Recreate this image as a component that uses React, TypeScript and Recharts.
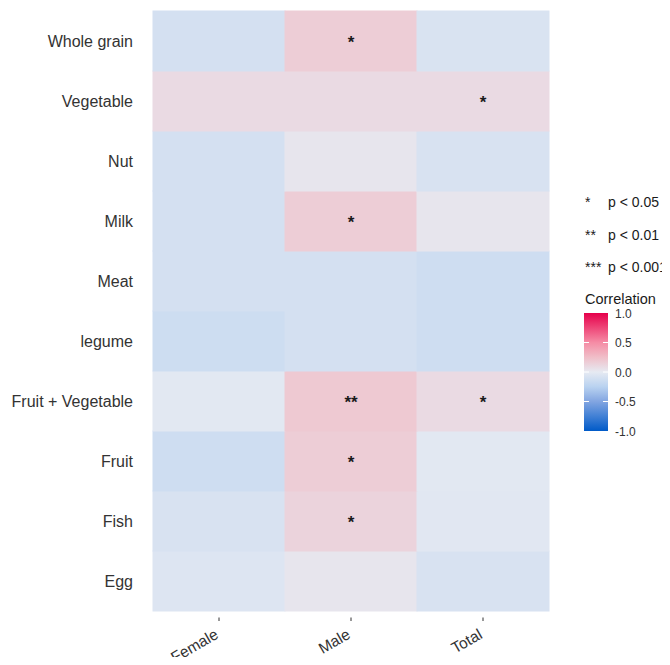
import React from 'react';
import { ScatterChart, Scatter, XAxis, YAxis } from 'recharts';

const rows = ['Whole grain', 'Vegetable', 'Nut', 'Milk', 'Meat', 'legume', 'Fruit + Vegetable', 'Fruit', 'Fish', 'Egg'];
const cols = ['Female', 'Male', 'Total'];
const femaleR = [-0.10, 0.09, -0.10, -0.10, -0.10, -0.14, -0.02, -0.135, -0.08, -0.05];
const maleR = [0.165, 0.09, 0.03, 0.165, -0.10, -0.10, 0.19, 0.165, 0.13, 0.03];
const totalR = [-0.075, 0.09, -0.08, 0.03, -0.135, -0.135, 0.09, -0.02, -0.03, -0.08];
const femaleSig = ['', '', '', '', '', '', '', '', '', ''];
const maleSig = ['*', '', '', '*', '', '', '**', '*', '*', ''];
const totalSig = ['', '*', '', '', '', '', '*', '', '', ''];
const legendSig = ['*', '**', '***'];
const legendP = ['p < 0.05', 'p < 0.01', 'p < 0.001'];
const legendTicks = [1.0, 0.5, 0.0, -0.5, -1.0];

const stops: [number, number[]][] = [
  [-1, [0, 90, 200]],
  [-0.5, [130, 165, 225]],
  [-0.25, [185, 210, 240]],
  [0, [230, 234, 242]],
  [0.25, [240, 190, 200]],
  [0.5, [245, 140, 165]],
  [1, [230, 0, 75]],
];
function colorOf(r: number): string {
  for (let i = 0; i < stops.length - 1; i++) {
    const [a, ca] = stops[i];
    const [b, cb] = stops[i + 1];
    if (r >= a && r <= b) {
      const f = (r - a) / (b - a);
      const c = ca.map((v, k) => Math.round(v + (cb[k] - v) * f));
      return `rgb(${c[0]},${c[1]},${c[2]})`;
    }
  }
  return 'white';
}

const W = 654;
const H = 657;
const M = { top: 3, right: 113, bottom: 4, left: 5 };
const YW = 140;
const XH = 50;
const CW = (W - M.left - M.right - YW) / cols.length;
const CH = (H - M.top - M.bottom - XH) / rows.length;
const PB = H - M.bottom - XH;

const seriesR = [femaleR, maleR, totalR];
const seriesSig = [femaleSig, maleSig, totalSig];
const data: any[] = [];
for (let i = rows.length - 1; i >= 0; i--) {
  for (let j = 0; j < cols.length; j++) {
    data.push({ col: cols[j], row: rows[i], r: seriesR[j][i], sig: seriesSig[j][i] });
  }
}

const FONT = 'Liberation Sans, Arial, sans-serif';

const Cell = (props: any) => {
  const { cx, cy, payload } = props;
  return (
    <g>
      <rect x={cx - CW / 2 - 0.5} y={cy - CH / 2 - 0.5} width={CW + 1} height={CH + 1} fill={colorOf(payload.r)} />
      {payload.sig ? (
        <text x={cx} y={cy + 7} textAnchor="middle" fontSize={17} fontWeight="bold" fill="#1a1a1a" fontFamily={FONT}>
          {payload.sig}
        </text>
      ) : null}
    </g>
  );
};

const XTick = (props: any) => {
  const { x, payload } = props;
  const ax = x + 0.5;
  const ay = PB + 26.5;
  return (
    <g>
      <line x1={x} x2={x} y1={PB + 6.5} y2={PB + 10} stroke="#333" strokeWidth={1} />
      <text x={ax} y={ay} textAnchor="end" transform={`rotate(-30 ${ax} ${ay})`} fontSize={15.5} fill="#333" fontFamily={FONT}>
        {payload.value}
      </text>
    </g>
  );
};

const YTick = (props: any) => {
  const { x, y, payload } = props;
  return (
    <text x={x - 20} y={y + 6} textAnchor="end" fontSize={16} fill="#333" fontFamily={FONT}>
      {payload.value}
    </text>
  );
};

export default function App() {
  const barTop = 305;
  const barH = 118;
  const barX = 576;
  return (
    <div style={{ position: 'relative', width: W, height: H, marginBottom: -8 }}>
      <ScatterChart width={W} height={H} margin={M} style={{ overflow: 'visible' }}>
        <XAxis
          type="category"
          dataKey="col"
          allowDuplicatedCategory={false}
          height={XH}
          axisLine={false}
          tickLine={false}
          tick={<XTick />}
          interval={0}
          tickMargin={0}
          tickSize={0}
        />
        <YAxis
          type="category"
          dataKey="row"
          allowDuplicatedCategory={false}
          width={YW}
          axisLine={false}
          tickLine={false}
          tick={<YTick />}
          interval={0}
          tickSize={0}
          tickMargin={0}
        />
        <Scatter data={data} shape={<Cell />} isAnimationActive={false} />
      </ScatterChart>
      <svg width={662} height={H} style={{ position: 'absolute', left: 0, top: 0, pointerEvents: 'none', overflow: 'visible' }}>
        <defs>
          <linearGradient id="corrGrad" x1="0" y1="0" x2="0" y2="1">
            {[1, 0.75, 0.5, 0.25, 0, -0.25, -0.5, -0.75, -1].map((v) => (
              <stop key={v} offset={`${((1 - v) / 2) * 100}%`} stopColor={colorOf(v)} />
            ))}
          </linearGradient>
        </defs>
        {legendSig.map((s, i) => (
          <g key={s}>
            <text x={577} y={199 + i * 32.5} fontSize={14} fill="#1a1a1a" fontFamily={FONT}>{s}</text>
            <text x={600} y={199 + i * 32.5} fontSize={14} fill="#1a1a1a" fontFamily={FONT}>{legendP[i]}</text>
          </g>
        ))}
        <text x={577} y={296} fontSize={14.5} fill="#1a1a1a" fontFamily={FONT}>Correlation</text>
        <rect x={barX} y={barTop} width={24} height={barH} fill="url(#corrGrad)" />
        {legendTicks.map((t) => {
          const yy = barTop + ((1 - t) / 2) * barH;
          return (
            <g key={t}>
              {t !== 1 && t !== -1 ? (
                <g>
                  <line x1={barX} x2={barX + 5} y1={yy} y2={yy} stroke="white" strokeWidth={1} />
                  <line x1={barX + 19} x2={barX + 24} y1={yy} y2={yy} stroke="white" strokeWidth={1} />
                </g>
              ) : null}
              <text x={barX + 31} y={yy + 4.5} fontSize={12} fill="#333" fontFamily={FONT}>{t.toFixed(1)}</text>
            </g>
          );
        })}
      </svg>
    </div>
  );
}
